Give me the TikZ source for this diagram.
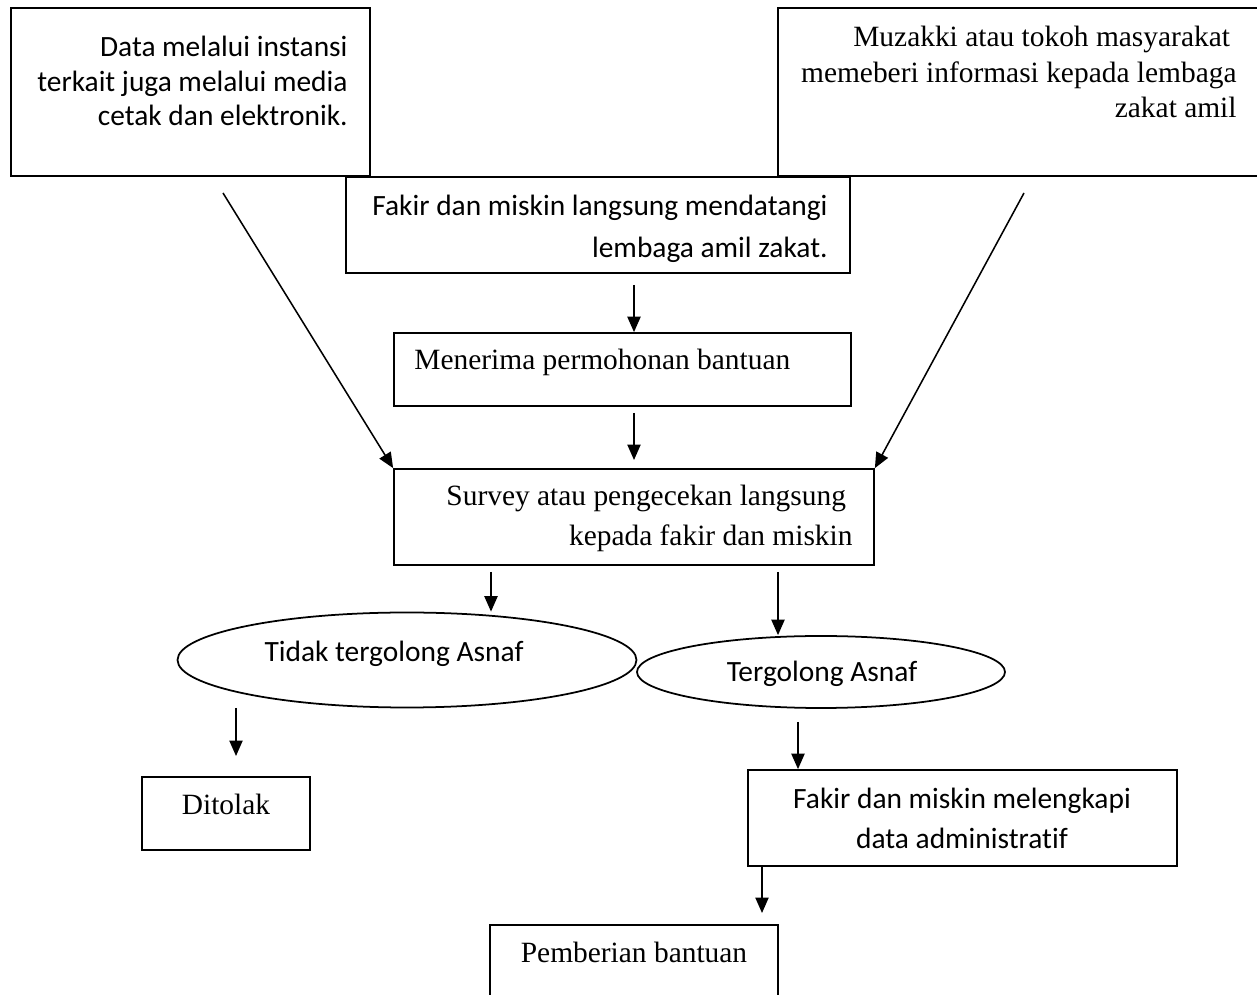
\documentclass[tikz,border=0pt]{standalone}
\usepackage{fontspec}
\setmainfont{Liberation Serif}
\newfontfamily\calibri[Ligatures=NoCommon]{Carlito}
\usetikzlibrary{arrows.meta,shapes.geometric}
\newdimen\unitpx
\unitpx=0.016cm

\begin{document}
\begin{tikzpicture}[x=0.016cm, y=-0.016cm,
    box/.style 2 args={draw, line width=0.8pt, inner sep=0pt, minimum width=#1*\unitpx, minimum height=#2*\unitpx},
    oval/.style 2 args={draw, ellipse, line width=0.8pt, inner sep=0pt, minimum width=#1*\unitpx, minimum height=#2*\unitpx},
    sans/.style={inner sep=0pt, font=\calibri\fontsize{13.4}{#1}\selectfont},
    sans/.default=16pt,
    serif/.style={inner sep=0pt, font=\fontsize{13.4}{#1}\selectfont},
    serif/.default=16pt,
    arr/.style={-{Triangle[length=7pt,width=6pt]}, line width=0.7pt}]
    \useasboundingbox (0,0) rectangle (1257,995);

    % Sources of data
    \node[box={359}{168}] (data) at (190.5,92) {};
    \node[sans=15.7pt, align=right, anchor=north east] (data-txt) at (348,36)
        {Data melalui instansi\\terkait juga melalui media\\cetak dan elektronik.};
    \node[box={486}{168}] (muzakki) at (1021,92) {};
    \node[serif=16.2pt, align=right, anchor=north east] (muzakki-txt) at (1237,26)
        {Muzakki atau tokoh masyarakat\hspace*{3pt}\\memeberi informasi kepada lembaga\hspace*{3pt}\\zakat amil};
    \node[box={504}{96}] (fakir) at (598,225) {};
    \node[sans=19pt, align=right, anchor=north east] (fakir-txt) at (828,195)
        {Fakir dan miskin langsung mendatangi\\lembaga amil zakat.};

    % Main steps
    \node[box={457}{73}] (terima) at (622.5,369.5) {};
    \node[serif, anchor=base west] (terima-txt) at (414,370) {Menerima permohonan bantuan};
    \node[box={480}{96}] (survey) at (634,517) {};
    \node[serif=18pt, align=right, anchor=north east] (survey-txt) at (853,485)
        {Survey atau pengecekan langsung\hspace*{3pt}\\kepada fakir dan miskin};

    % Decision
    \node[oval={459}{95}] (tidak) at (407,660) {};
    \node[sans, anchor=base] (tidak-txt) at (394,662) {Tidak tergolong Asnaf};
    \node[oval={368}{72}] (golong) at (821,672) {};
    \node[sans, anchor=base] (golong-txt) at (822,682) {Tergolong Asnaf};

    % Results
    \node[box={168}{73}] (tolak) at (226,813.5) {};
    \node[serif, anchor=base] (tolak-txt) at (226,815) {Ditolak};
    \node[box={429}{96}] (lengkap) at (962.5,818) {};
    \node[sans=18pt, align=center, anchor=north] (lengkap-txt) at (962,788)
        {Fakir dan miskin melengkapi\\data administratif};
    \node[box={288}{80}] (beri) at (634,965) {};
    \node[serif, anchor=base] (beri-txt) at (634,963) {Pemberian bantuan};

    % Arrows
    \coordinate (s1) at (223,193);
    \coordinate (s2) at (1024,193);
    \draw[arr] (s1) -- (survey.north west);
    \draw[arr] (s2) -- (survey.north east);
    \coordinate (s3) at (634,285);
    \draw[arr] (s3) -- (s3 |- terima.north);
    \coordinate (s4) at (634,413);
    \coordinate (e4) at (634,460);
    \draw[arr] (s4) -- (e4);
    \coordinate (s5) at (491,572);
    \draw[arr] (s5) -- (s5 |- tidak.north);
    \coordinate (s6) at (778,572);
    \draw[arr] (s6) -- (s6 |- golong.north);
    \coordinate (s7) at (236,708);
    \coordinate (e7) at (236,756);
    \draw[arr] (s7) -- (e7);
    \coordinate (s8) at (798,722);
    \draw[arr] (s8) -- (s8 |- lengkap.north);
    \coordinate (s9) at (762,866);
    \coordinate (e9) at (762,913);
    \draw[arr] (s9) -- (e9);
\end{tikzpicture}
\end{document}
